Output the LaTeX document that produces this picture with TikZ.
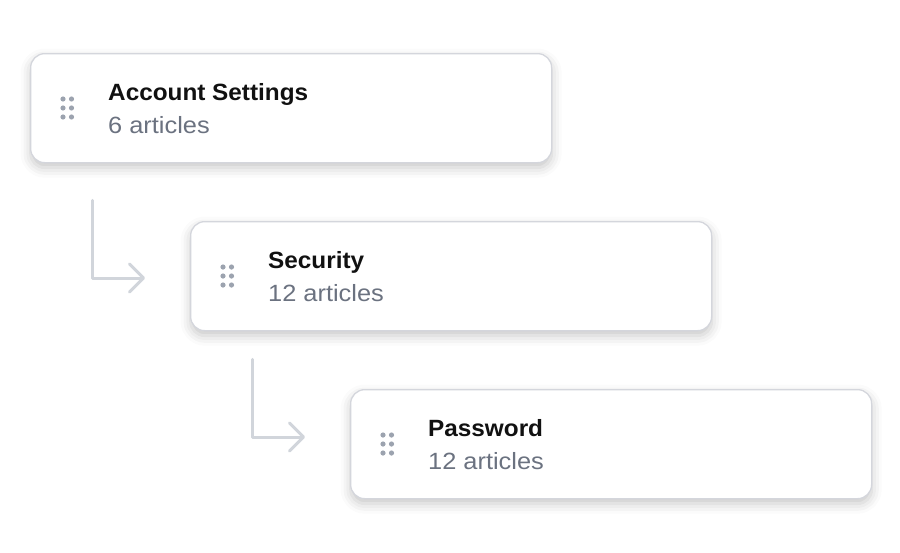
\documentclass[tikz,border=0pt]{standalone}
\usepackage{fontspec}
\setmainfont{Liberation Sans}
\newfontfamily\titlefont{Liberation Sans}[FakeStretch=1.035]
\newfontfamily\subfont{Liberation Sans}[FakeStretch=1.08]
\usetikzlibrary{calc,shadows.blur,arrows.meta}
\definecolor{bordergray}{HTML}{D4D6DC}
\definecolor{conngray}{HTML}{D1D5DB}
\definecolor{subgray}{HTML}{6B7280}
\definecolor{dotgray}{HTML}{9CA3AF}
\definecolor{titleblack}{HTML}{111111}
\tikzset{
  card/.style={draw=bordergray, line width=1.3pt, fill=white, rounded corners=14pt,
    minimum width=521pt, minimum height=109pt, inner sep=0pt, anchor=north west,
    blur shadow={shadow xshift=0pt, shadow yshift=-5pt, shadow blur radius=10pt, shadow opacity=22}},
  title/.style={anchor=base west, inner sep=0pt, text=titleblack,
    font=\titlefont\bfseries\fontsize{23.5}{28}\selectfont},
  subtitle/.style={anchor=base west, inner sep=0pt, text=subgray,
    font=\subfont\fontsize{23.5}{28}\selectfont},
  conn/.style={draw=conngray, line width=3pt, line cap=round, line join=round,
    -{Straight Barb[length=14pt, width=28pt, line cap=round, line join=round]}}
}
\newcommand{\gripdots}[1]{%
  \foreach \dx in {33,41.5}{\foreach \dy in {46,55,64}{%
    \fill[dotgray] ($(#1.north west)+(\dx,\dy)$) circle (2.6pt);}}}
\begin{document}
\begin{tikzpicture}[x=1pt,y=-1pt]
\useasboundingbox (0,0) rectangle (900,552);
% cards
\node[card] (c1) at (30,53) {};
\node[card] (c2) at (190,221) {};
\node[card] (c3) at (350,389) {};
% grips
\gripdots{c1}
\gripdots{c2}
\gripdots{c3}
% texts
\node[title] (t1) at ($(c1.north west)+(78,47)$) {Account Settings};
\node[subtitle] (s1) at ($(c1.north west)+(78,80)$) {6 articles};
\node[title] (t2) at ($(c2.north west)+(78,47)$) {Security};
\node[subtitle] (s2) at ($(c2.north west)+(78,80)$) {12 articles};
\node[title] (t3) at ($(c3.north west)+(78,47)$) {Password};
\node[subtitle] (s3) at ($(c3.north west)+(78,80)$) {12 articles};
% connectors
\coordinate (a1) at ($(c1.south west)+(62,37)$);
\coordinate (b1) at (145,278);
\coordinate (a2) at ($(c2.south west)+(62,28)$);
\coordinate (b2) at (305,437);
\draw[conn] (a1) |- (b1);
\draw[conn] (a2) |- (b2);
\end{tikzpicture}
\end{document}
